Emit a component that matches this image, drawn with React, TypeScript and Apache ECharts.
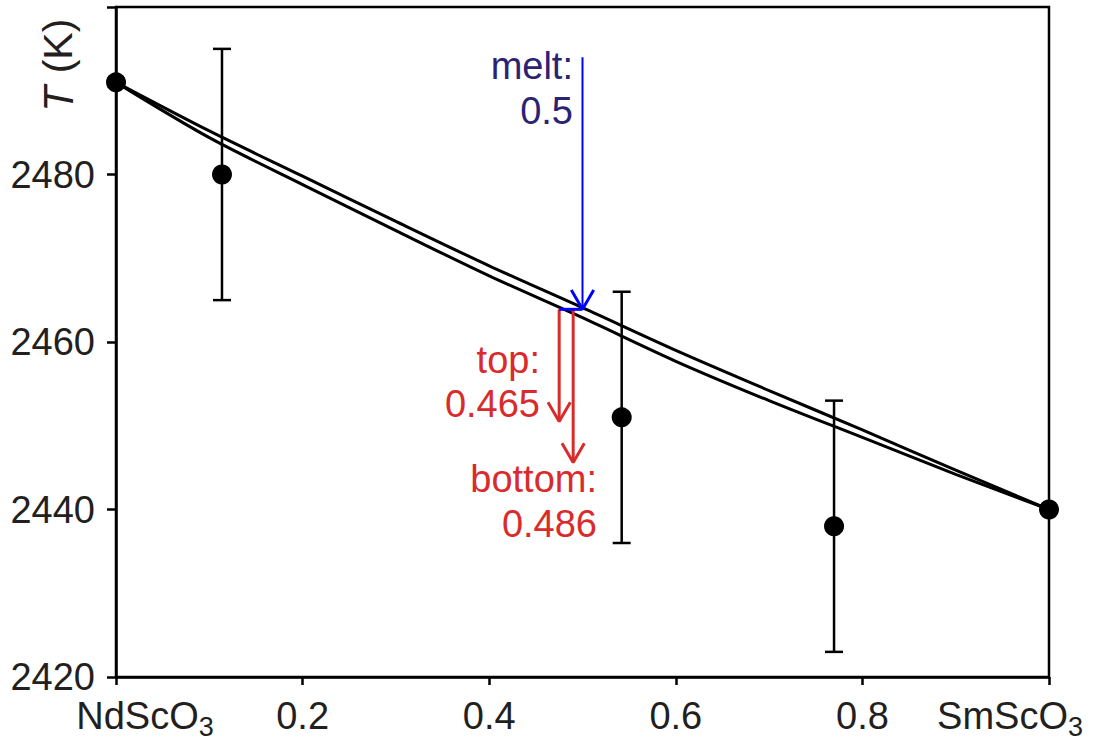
import React, { useEffect, useRef } from "react";
import * as echarts from "echarts";

// measured data points
const compX = [0, 0.1136, 0.542, 0.7696, 1];
const compT = [2491, 2480, 2451, 2438, 2440];
// error bars (only for the interior points)
const errX = [0.1136, 0.542, 0.7696];
const errLow = [2465, 2436, 2423];
const errHigh = [2495, 2466, 2453];

// two model curves
const curveX = [0, 0.1, 0.2, 0.3, 0.4, 0.5, 0.6, 0.7, 0.8, 0.9, 1];
const curveUpper = [2491, 2485.2, 2479.8, 2474.4, 2469.1, 2464.1, 2459.0, 2454.2, 2449.5, 2444.7, 2440];
const curveLower = [2491, 2484.4, 2478.8, 2473.3, 2467.9, 2462.9, 2457.7, 2453.0, 2448.6, 2444.2, 2440];

// annotation arrows (data coordinates)
const meltX = 0.5;
const meltTop = 2494;
const meltTip = 2463.9;
const topX = 0.475;
const topTip = 2450.5;
const bottomX = 0.49;
const bottomTip = 2445.6;
const headDx = 0.012;
const headDy = 2.3;

const yTicks = [2420, 2440, 2460, 2480, 2500];
const xTicks = [0, 0.2, 0.4, 0.6, 0.8, 1];

const FONT = "'Liberation Sans', Arial, Helvetica, sans-serif";
const RED = "#d92b2b";
const BLUE = "#0000ff";
const NAVY = "#2b2272";
const TXT = "#231f20";

function head(x: number, tip: number) {
  return [
    [x - headDx, tip + headDy],
    [x, tip],
    [x + headDx, tip + headDy],
  ];
}

export default function App() {
  const ref = useRef<HTMLDivElement>(null);
  useEffect(() => {
    document.body.style.margin = "0";
    const chart = echarts.init(ref.current!, null, { renderer: "svg" });
    const lineSeries = (data: number[][], color: string, w: number, z = 5, smooth: any = false) => ({
      type: "line",
      data,
      symbol: "none",
      showSymbol: false,
      clip: false,
      smooth,
      z,
      lineStyle: { color, width: w },
      silent: true,
    });
    const SUB = 11;
    chart.setOption({
      animation: false,
      backgroundColor: "#fff",
      grid: {
        left: 116,
        right: 45,
        top: 7,
        bottom: 65,
        outerBoundsMode: "none",
        containLabel: false,
        show: true,
        borderColor: "#000",
        borderWidth: 2.5,
      },
      xAxis: {
        type: "value",
        min: xTicks[0],
        max: xTicks[xTicks.length - 1],
        interval: 0.2,
        splitLine: { show: false },
        axisLine: { lineStyle: { color: "#000", width: 2.5 } },
        axisTick: { inside: false, length: 8, lineStyle: { color: "#000", width: 2.5 } },
        axisLabel: {
          margin: 19,
          color: TXT,
          fontFamily: FONT,
          fontSize: 38,
          lineHeight: 40,
          hideOverlap: false,
          formatter: (v: number) =>
            v === 0 ? "{a|NdScO}{s|3}" : v === 1 ? "{b|SmScO}{t|3}" : v.toFixed(1),
          rich: {
            a: { fontSize: 38, lineHeight: 40, fontFamily: FONT, color: TXT, padding: [SUB, 0, SUB, 58] },
            b: { fontSize: 38, lineHeight: 40, fontFamily: FONT, color: TXT, padding: [SUB, 0, SUB, 0] },
            s: { fontSize: 27, lineHeight: 40, fontFamily: FONT, color: TXT, padding: [2 * SUB, 0, 0, 0] },
            t: { fontSize: 27, lineHeight: 40, fontFamily: FONT, color: TXT, padding: [2 * SUB, 78, 0, 0] },
          },
        },
      },
      yAxis: {
        type: "value",
        min: yTicks[0],
        max: yTicks[yTicks.length - 1],
        interval: 20,
        splitLine: { show: false },
        axisLine: { lineStyle: { color: "#000", width: 2.5 } },
        axisTick: { inside: false, length: 9, lineStyle: { color: "#000", width: 2.5 } },
        axisLabel: {
          margin: 21,
          color: TXT,
          fontFamily: FONT,
          fontSize: 38,
          formatter: (v: number) => (v === 2500 ? "" : String(v)),
        },
      },
      series: [
        lineSeries(curveX.map((x, i) => [x, curveUpper[i]]), "#000", 3, 5, 0.3),
        lineSeries(curveX.map((x, i) => [x, curveLower[i]]), "#000", 3, 5, 0.3),
        {
          type: "custom",
          z: 6,
          silent: true,
          data: errX.map((x, i) => [x, errLow[i], errHigh[i]]),
          encode: { x: 0, y: [1, 2] },
          renderItem: (params: any, api: any) => {
            const x = api.value(0);
            const lo = api.coord([x, api.value(1)]);
            const hi = api.coord([x, api.value(2)]);
            const w = 9;
            const st = { stroke: "#000", lineWidth: 2.5 };
            return {
              type: "group",
              children: [
                { type: "line", shape: { x1: lo[0], y1: lo[1], x2: hi[0], y2: hi[1] }, style: st },
                { type: "line", shape: { x1: lo[0] - w, y1: lo[1], x2: lo[0] + w, y2: lo[1] }, style: st },
                { type: "line", shape: { x1: hi[0] - w, y1: hi[1], x2: hi[0] + w, y2: hi[1] }, style: st },
              ],
            };
          },
        },
        {
          type: "scatter",
          z: 7,
          symbolSize: 20,
          itemStyle: { color: "#000", opacity: 1 },
          data: compX.map((x, i) => [x, compT[i]]),
        },
        // melt arrow (blue)
        lineSeries([[meltX, meltTop], [meltX, meltTip]], BLUE, 2, 8),
        lineSeries(head(meltX, meltTip), BLUE, 3, 8),
        // red arrows
        lineSeries([[topX, meltTip], [topX, topTip]], RED, 3, 8),
        lineSeries(head(topX, topTip), RED, 3, 8),
        lineSeries([[bottomX, meltTip], [bottomX, bottomTip]], RED, 3, 8),
        lineSeries(head(bottomX, bottomTip), RED, 3, 8),
        // connecting horizontal segment (blue)
        lineSeries([[topX, meltTip], [meltX, meltTip]], BLUE, 3, 9),
      ],
      graphic: [
        {
          type: "text",
          x: 58,
          y: 99,
          rotation: Math.PI / 2,
          style: {
            text: "T",
            align: "center",
            verticalAlign: "middle",
            font: `italic 42px ${FONT}`,
            fill: TXT,
          },
        },
        {
          type: "text",
          x: 58,
          y: 46,
          rotation: Math.PI / 2,
          style: {
            text: "(K)",
            align: "center",
            verticalAlign: "middle",
            font: `41px ${FONT}`,
            fill: TXT,
          },
        },
        ...[
          { t: "melt:", x: 573, y: 66, c: NAVY },
          { t: "0.5", x: 573, y: 111, c: NAVY },
          { t: "top:", x: 540, y: 360, c: RED },
          { t: "0.465", x: 540, y: 404, c: RED },
          { t: "bottom:", x: 597, y: 479, c: RED },
          { t: "0.486", x: 597, y: 524, c: RED },
        ].map((o) => ({
          type: "text",
          x: o.x,
          y: o.y,
          z: 20,
          style: {
            text: o.t,
            align: "right",
            verticalAlign: "middle",
            font: `38px ${FONT}`,
            fill: o.c,
          },
        })),
      ],
    });
    return () => chart.dispose();
  }, []);
  return (
    <div
      ref={ref}
      style={{ position: "fixed", left: 0, top: 0, width: 1094, height: 742 }}
    />
  );
}
